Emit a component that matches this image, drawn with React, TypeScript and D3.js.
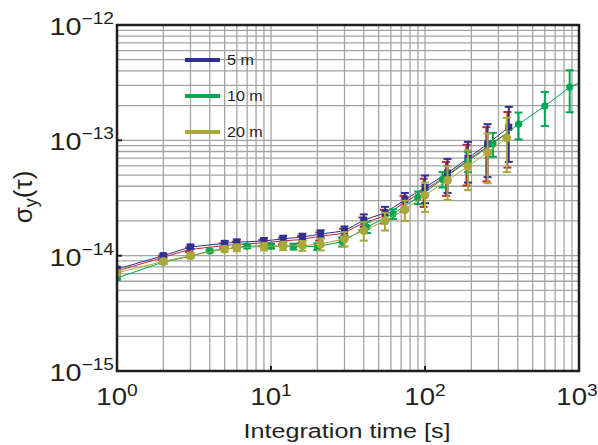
import React from "react";
import * as d3 from "d3";

const W = 598;
const H = 445;
const PLOT = { left: 117, right: 579, top: 25, bottom: 371 };

// Glyphs in this figure are drawn horizontally widened.
const STRETCH = 1.2;

// Allan deviation values are given in units of 1e-14.
const UNIT = 1e-14;

// 5 m
const tau5m = [1, 2, 3, 5, 6, 9, 12, 16, 21, 30, 40, 55, 74, 100, 140, 190, 255, 350];
const sigma5m = [0.765, 1.0, 1.19, 1.28, 1.31, 1.34, 1.4, 1.45, 1.54, 1.64, 2.03, 2.35, 3.05, 3.9, 5.2, 7.0, 9.3, 13.0];
const err5m = [0.03, 0.04, 0.05, 0.06, 0.07, 0.08, 0.09, 0.1, 0.12, 0.15, 0.25, 0.3, 0.45, 1.05, 1.7, 2.7, 4.5, 6.5];

// unlabelled red run
const tauRed = [0.98, 1.96, 2.94, 4.9, 5.9, 8.8, 11.8, 15.7, 20.6, 29.4, 39.2, 54, 72.5, 98, 137, 186, 250, 343];
const sigmaRed = [0.73, 0.96, 1.13, 1.22, 1.25, 1.29, 1.34, 1.38, 1.47, 1.56, 1.9, 2.2, 2.85, 3.65, 4.9, 6.6, 8.7, 11.7];
const errRed = [0.03, 0.04, 0.05, 0.06, 0.07, 0.08, 0.09, 0.1, 0.12, 0.15, 0.24, 0.3, 0.45, 1.0, 1.6, 2.55, 4.3, 5.9];

// 10 m
const tau10m = [1, 2, 3, 4, 7, 10, 14, 20, 29, 42, 62, 90, 130, 190, 276, 405, 600, 870];
const sigma10m = [0.64, 0.88, 0.99, 1.1, 1.21, 1.21, 1.2, 1.2, 1.32, 1.77, 2.3, 3.2, 4.6, 6.6, 9.4, 13.8, 19.8, 29];
const err10m = [0.02, 0.03, 0.03, 0.03, 0.05, 0.06, 0.07, 0.08, 0.12, 0.2, 0.22, 0.4, 0.7, 1.3, 2.2, 3.6, 6.5, 11.5];
// the 10 m trace runs on to the right-hand frame
const tail10m = { tau: 1000, sigma: 31.4 };

// 20 m
const tau20m = [1, 2, 3, 5, 6, 9, 12, 16, 21, 30, 40, 55, 74, 100, 140, 190, 255, 340];
const sigma20m = [0.71, 0.89, 1.0, 1.14, 1.17, 1.2, 1.22, 1.22, 1.26, 1.4, 1.65, 2.0, 2.5, 3.35, 4.5, 5.95, 7.85, 10.5];
const err20m = [0.03, 0.04, 0.05, 0.06, 0.08, 0.09, 0.1, 0.12, 0.15, 0.2, 0.3, 0.35, 0.5, 0.95, 1.45, 2.25, 3.6, 5.2];

const xDecades = [0, 1, 2, 3];
const yDecades = [-15, -14, -13, -12];
const legendLabels = ["5 m", "10 m", "20 m"];

const BLUE = "#2e3192";
const RED = "#c1272d";
const GREEN = "#00a651";
const OLIVE = "#a9a83a";
const INK = "#231f20";

type Marker = "square" | "circle" | "none";
interface Series {
  tau: number[];
  sigma: number[];
  err: number[];
  color: string;
  marker: Marker;
  size: number;
  tail?: { tau: number; sigma: number };
}

// drawing order: later series sit on top
const series: Series[] = [
  { tau: tauRed, sigma: sigmaRed, err: errRed, color: RED, marker: "none", size: 0 },
  { tau: tau5m, sigma: sigma5m, err: err5m, color: BLUE, marker: "square", size: 7 },
  { tau: tau10m, sigma: sigma10m, err: err10m, color: GREEN, marker: "circle", size: 3.6, tail: tail10m },
  { tau: tau20m, sigma: sigma20m, err: err20m, color: OLIVE, marker: "circle", size: 4.4 },
];

const legend = [
  { label: legendLabels[0], color: BLUE },
  { label: legendLabels[1], color: GREEN },
  { label: legendLabels[2], color: OLIVE },
];

export default function App() {
  const x = d3.scaleLog().domain([1, 1000]).range([PLOT.left, PLOT.right]);
  const y = d3.scaleLog().domain([1e-15, 1e-12]).range([PLOT.bottom, PLOT.top]);

  const xGrid: number[] = [];
  for (let e = 0; e < 3; e++) for (let m = 1; m <= 9; m++) xGrid.push(m * Math.pow(10, e));
  const yGrid: number[] = [];
  for (let e = -15; e < -12; e++) for (let m = 1; m <= 9; m++) yGrid.push(m * Math.pow(10, e));

  const line = d3
    .line<[number, number]>()
    .x((d) => x(d[0]))
    .y((d) => y(d[1]));

  const font = "'Liberation Sans', Arial, Helvetica, sans-serif";
  const cap = 4;

  return (
    <svg width={W} height={H} style={{ position: "absolute", left: 0, top: 0 }} fontFamily={font}>
      <defs>
        <clipPath id="plot-area">
          <rect x={PLOT.left} y={PLOT.top - 6} width={PLOT.right - PLOT.left} height={PLOT.bottom - PLOT.top + 6} />
        </clipPath>
      </defs>
      <rect width={W} height={H} fill="#ffffff" />

      {/* grid */}
      <g stroke="#a3a3a3" strokeWidth={1.3}>
        {xGrid.map((v, i) => (
          <line key={"gx" + i} x1={x(v)} x2={x(v)} y1={PLOT.top} y2={PLOT.bottom} />
        ))}
        {yGrid.map((v, i) => (
          <line key={"gy" + i} x1={PLOT.left} x2={PLOT.right} y1={y(v)} y2={y(v)} />
        ))}
      </g>

      {/* legend */}
      {legend.map((l, i) => (
        <g key={"lg" + i}>
          <line x1={185} x2={220} y1={60 + i * 36} y2={60 + i * 36} stroke={l.color} strokeWidth={4} />
          <text transform={`translate(227,${65 + i * 36}) scale(1.15,1)`} fontSize={14} fill={INK}>
            {l.label}
          </text>
        </g>
      ))}

      {/* data */}
      <g clipPath="url(#plot-area)">
        {series.map((s, si) => {
          const pts: [number, number][] = s.tau.map((t, i) => [t, s.sigma[i] * UNIT]);
          const linePts = s.tail ? [...pts, [s.tail.tau, s.tail.sigma * UNIT] as [number, number]] : pts;
          return (
            <g key={"s" + si}>
              <path d={line(linePts) ?? ""} fill="none" stroke={s.color} strokeWidth={1} />
              {s.tau.map((t, i) => {
                const cx = x(t);
                const hi = y((s.sigma[i] + s.err[i]) * UNIT);
                const lo = y((s.sigma[i] - s.err[i]) * UNIT);
                return (
                  <g key={"e" + i} stroke={s.color} strokeWidth={2}>
                    <line x1={cx} x2={cx} y1={hi} y2={lo} />
                    <line x1={cx - cap} x2={cx + cap} y1={hi} y2={hi} />
                    <line x1={cx - cap} x2={cx + cap} y1={lo} y2={lo} />
                  </g>
                );
              })}
              {s.marker !== "none" &&
                pts.map((p, i) =>
                  s.marker === "square" ? (
                    <rect
                      key={"m" + i}
                      x={x(p[0]) - s.size / 2}
                      y={y(p[1]) - s.size / 2}
                      width={s.size}
                      height={s.size}
                      fill={s.color}
                    />
                  ) : (
                    <circle key={"m" + i} cx={x(p[0])} cy={y(p[1])} r={s.size} fill={s.color} />
                  )
                )}
            </g>
          );
        })}
      </g>

      {/* frame and decade ticks */}
      <g stroke={INK} strokeWidth={2}>
        {yDecades.slice(1, -1).map((e) => (
          <line key={"ty" + e} x1={PLOT.left} x2={PLOT.left + 5} y1={y(Math.pow(10, e))} y2={y(Math.pow(10, e))} />
        ))}
        {xDecades.slice(1, -1).map((e) => (
          <line key={"tx" + e} x1={x(Math.pow(10, e))} x2={x(Math.pow(10, e))} y1={PLOT.bottom} y2={PLOT.bottom - 5} />
        ))}
      </g>
      <rect
        x={PLOT.left}
        y={PLOT.top}
        width={PLOT.right - PLOT.left}
        height={PLOT.bottom - PLOT.top}
        fill="none"
        stroke={INK}
        strokeWidth={2.5}
      />

      {/* y tick labels */}
      {yDecades.map((e) => (
        <text
          key={"ly" + e}
          transform={`translate(114,${y(Math.pow(10, e)) + 10}) scale(${STRETCH},1)`}
          textAnchor="end"
          fontSize={24}
          fill={INK}
        >
          10
          <tspan dy={-11} fontSize={16}>
            {"\u2212" + Math.abs(e)}
          </tspan>
        </text>
      ))}

      {/* x tick labels */}
      {xDecades.map((e) => (
        <text
          key={"lx" + e}
          transform={`translate(${Math.min(x(Math.pow(10, e)), W - 21)},${405}) scale(${STRETCH},1)`}
          textAnchor="middle"
          fontSize={23}
          fill={INK}
        >
          10
          <tspan dy={-9} fontSize={16}>
            {String(e)}
          </tspan>
        </text>
      ))}

      {/* axis titles */}
      <text
        transform={`translate(347,438) scale(${STRETCH},1)`}
        textAnchor="middle"
        fontSize={21}
        fill={INK}
      >
        Integration time [s]
      </text>
      <text
        transform="translate(32,197) rotate(-90)"
        textAnchor="middle"
        fontSize={26}
        fill={INK}
      >
        σ
        <tspan dy={5} fontSize={18}>
          y
        </tspan>
        <tspan dy={-5}>(τ)</tspan>
      </text>
    </svg>
  );
}
